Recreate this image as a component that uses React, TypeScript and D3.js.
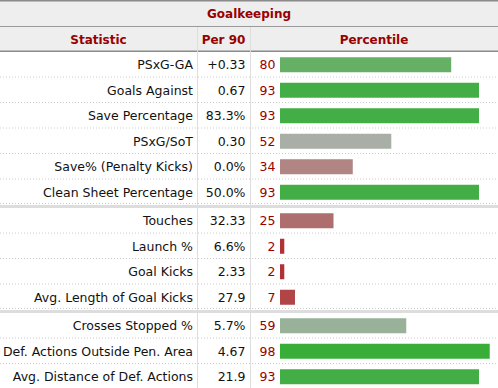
import React from "react";
import * as d3 from "d3";

const title = "Goalkeeping";
const headers = ["Statistic", "Per 90", "Percentile"];
const statistics = [
  "PSxG-GA", "Goals Against", "Save Percentage", "PSxG/SoT", "Save% (Penalty Kicks)", "Clean Sheet Percentage",
  "Touches", "Launch %", "Goal Kicks", "Avg. Length of Goal Kicks",
  "Crosses Stopped %", "Def. Actions Outside Pen. Area", "Avg. Distance of Def. Actions",
];
const per90 = ["+0.33", "0.67", "83.3%", "0.30", "0.0%", "50.0%", "32.33", "6.6%", "2.33", "27.9", "5.7%", "4.67", "21.9"];
const percentiles = [80, 93, 93, 52, 34, 93, 25, 2, 2, 7, 59, 98, 93];
const groups = [0, 0, 0, 0, 0, 0, 1, 1, 1, 1, 2, 2, 2];

const colorStops = [0, 7, 25, 34, 52, 59, 80, 93, 98];
const colorValues = ["#b12a31", "#b04446", "#ae6e6e", "#b08584", "#a9aea6", "#98b198", "#66b066", "#43ae45", "#38ae38"];

const W = 498;
const H = 388;
const TITLE_H = 26;
const HEADER_BOTTOM = 52;
const ROW_H = 25.5;
const SEP = 3;
const COL1 = 197;
const COL2 = 250;
const FONT = "'DejaVu Sans', Verdana, sans-serif";
const RED = "#990000";
const BODY_FS = 12.5;

export default function App() {
  const x = d3.scaleLinear().domain([0, 100]).range([280, 494]);
  const color = d3.scaleLinear<string>().domain(colorStops).range(colorValues).interpolate(d3.interpolateRgb);
  const rowY = (i: number) => HEADER_BOTTOM + i * ROW_H + groups[i] * SEP;
  const groupIds = Array.from(new Set(groups));
  const sepYs = groupIds.slice(1).map((g) => rowY(groups.indexOf(g)) - SEP);

  return (
    <svg width={W} height={H} style={{ position: "absolute", left: 0, top: 0, background: "#fff" }}>
      <rect x={0} y={0} width={W} height={HEADER_BOTTOM} fill="#eeeeee" />
      <line x1={0} x2={W} y1={0.75} y2={0.75} stroke="#8a8a8a" strokeWidth={1.5} />
      <line x1={0} x2={W} y1={26.5} y2={26.5} stroke="#999" strokeWidth={1} />
      <line x1={0} x2={W} y1={51.25} y2={51.25} stroke="#8a8a8a" strokeWidth={1.5} />
      <text x={W / 2} y={TITLE_H / 2 + 4.5} textAnchor="middle" fontFamily={FONT} fontWeight="bold" fontSize={12} fill={RED}>
        {title}
      </text>
      <text x={COL1 / 2} y={43.5} textAnchor="middle" fontFamily={FONT} fontWeight="bold" fontSize={12} fill={RED}>{headers[0]}</text>
      <text x={(COL1 + COL2) / 2} y={43.5} textAnchor="middle" fontFamily={FONT} fontWeight="bold" fontSize={12} fill={RED}>{headers[1]}</text>
      <text x={(COL2 + W) / 2} y={43.5} textAnchor="middle" fontFamily={FONT} fontWeight="bold" fontSize={12} fill={RED}>{headers[2]}</text>

      {statistics.map((s, i) => {
        const y0 = rowY(i);
        const cy = y0 + ROW_H / 2;
        const isLastInGroup = i === statistics.length - 1 || groups[i + 1] !== groups[i];
        return (
          <g key={s}>
            {!isLastInGroup && (
              <line x1={0} x2={W} y1={y0 + ROW_H - 0.5} y2={y0 + ROW_H - 0.5} stroke="#cccccc" strokeWidth={1} strokeDasharray="1,2" />
            )}
            {isLastInGroup && i !== statistics.length - 1 && (
              <line x1={0} x2={W} y1={y0 + ROW_H - 1.5} y2={y0 + ROW_H - 1.5} stroke="#cccccc" strokeWidth={1} strokeDasharray="1,2" />
            )}
            <text x={193} y={cy + 4.5} textAnchor="end" fontFamily={FONT} fontSize={BODY_FS} fill="#111">{s}</text>
            <text x={245.5} y={cy + 4.5} textAnchor="end" fontFamily={FONT} fontSize={BODY_FS} fill="#111">{per90[i]}</text>
            <text x={275.5} y={cy + 4.5} textAnchor="end" fontFamily={FONT} fontSize={BODY_FS} fill={RED}>{percentiles[i]}</text>
            <rect x={x(0)} y={cy - 7.5} width={x(percentiles[i]) - x(0)} height={15} fill={color(percentiles[i])} />
          </g>
        );
      })}

      {sepYs.map((y) => (
        <rect key={y} x={0} y={y} width={W} height={SEP} fill="#dddddd" />
      ))}

      <line x1={COL1 + 0.5} x2={COL1 + 0.5} y1={TITLE_H + 1} y2={H} stroke="#dddddd" strokeWidth={1} />
      <line x1={COL2 + 0.5} x2={COL2 + 0.5} y1={TITLE_H + 1} y2={H} stroke="#dddddd" strokeWidth={1} />
    </svg>
  );
}
